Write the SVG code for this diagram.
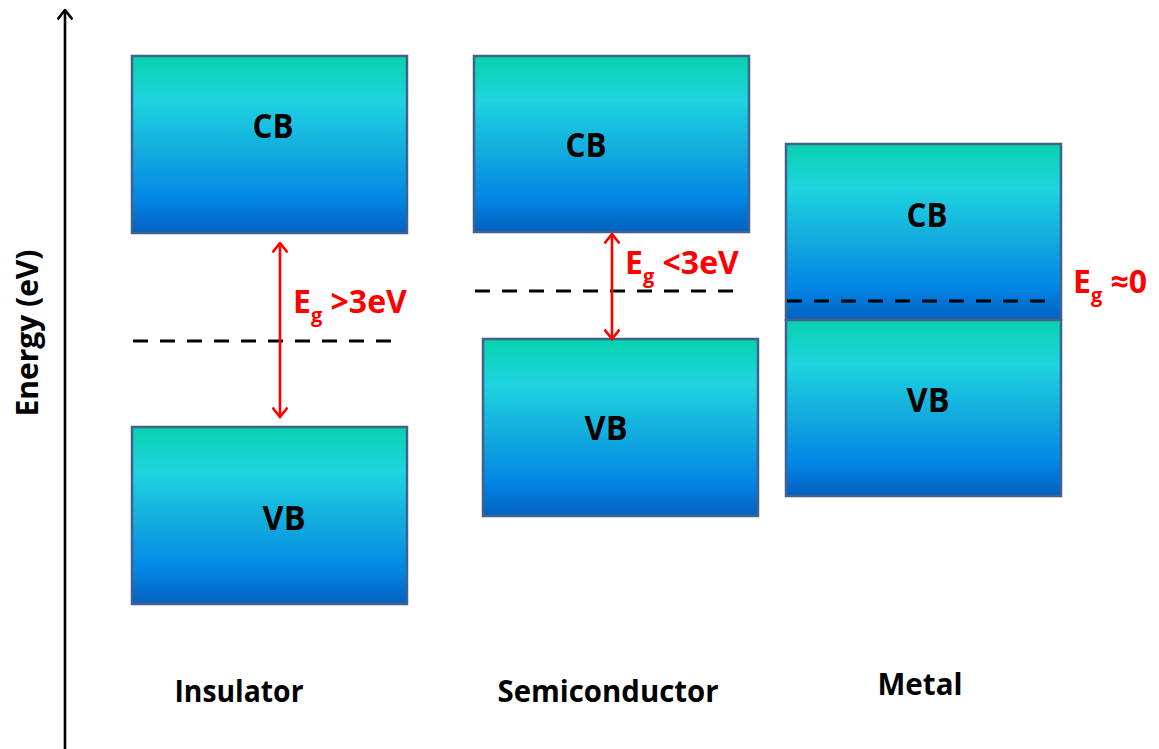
<svg xmlns="http://www.w3.org/2000/svg" width="1159" height="749" viewBox="0 0 1159 749">
  <defs>
    <linearGradient id="band" x1="0" y1="0" x2="0" y2="1">
      <stop offset="0" stop-color="#07D2AC"/>
      <stop offset="0.25" stop-color="#1FD4E0"/>
      <stop offset="0.55" stop-color="#12AADE"/>
      <stop offset="0.8" stop-color="#0388E6"/>
      <stop offset="1" stop-color="#0460C0"/>
    </linearGradient>
    <marker id="redHead" viewBox="0 0 12 16" refX="10.5" refY="8" markerWidth="12" markerHeight="16" orient="auto-start-reverse" markerUnits="userSpaceOnUse">
      <path d="M1,0.5 L10.5,8 L1,15.5" fill="none" stroke="#FF0000" stroke-width="2.6"/>
    </marker>
    <marker id="blackHead" viewBox="0 0 12 16" refX="10.5" refY="8" markerWidth="12" markerHeight="16" orient="auto" markerUnits="userSpaceOnUse">
      <path d="M1,0.5 L10.5,8 L1,15.5" fill="none" stroke="#000" stroke-width="2.6"/>
    </marker>
  </defs>
  <style>
    .band { fill: url(#band); stroke: #41628C; stroke-width: 2.5; }
    .lbl { font-family: "Open Sans", "Liberation Sans", sans-serif; font-weight: bold; fill: #000; text-anchor: middle; }
    .eg { font-family: "Open Sans", "Liberation Sans", "DejaVu Sans", sans-serif; font-weight: bold; fill: #FF0000; font-size: 32px; }
    .sub { font-size: 20px; }
    .fermi { stroke: #000; stroke-width: 3; stroke-dasharray: 15 12; fill: none; }
    .gap { stroke: #FF0000; stroke-width: 2.6; fill: none; marker-start: url(#redHead); marker-end: url(#redHead); }
  </style>
  <rect width="1159" height="749" fill="#FFFFFF"/>

  <g id="axis">
    <line x1="65" y1="749" x2="65" y2="10" stroke="#000" stroke-width="2.6" marker-end="url(#blackHead)"/>
    <text class="lbl" font-size="31" transform="translate(38,333) rotate(-90)" textLength="167" lengthAdjust="spacingAndGlyphs">Energy (eV)</text>
  </g>

  <g id="insulator-cb">
    <rect class="band" x="132" y="56" width="275" height="177"/>
    <text class="lbl" x="273" y="138" font-size="34" textLength="41" lengthAdjust="spacingAndGlyphs">CB</text>
  </g>
  <g id="insulator-vb">
    <rect class="band" x="132" y="427" width="275" height="177"/>
    <text class="lbl" x="284" y="530" font-size="34" textLength="43" lengthAdjust="spacingAndGlyphs">VB</text>
  </g>
  <g id="semiconductor-cb">
    <rect class="band" x="474" y="56" width="275" height="176"/>
    <text class="lbl" x="586" y="157" font-size="34" textLength="41" lengthAdjust="spacingAndGlyphs">CB</text>
  </g>
  <g id="semiconductor-vb">
    <rect class="band" x="483" y="339" width="275" height="177"/>
    <text class="lbl" x="606" y="440" font-size="34" textLength="43" lengthAdjust="spacingAndGlyphs">VB</text>
  </g>
  <g id="metal-cb">
    <rect class="band" x="786" y="144" width="275" height="176"/>
    <text class="lbl" x="927" y="227" font-size="34" textLength="41" lengthAdjust="spacingAndGlyphs">CB</text>
  </g>
  <g id="metal-vb">
    <rect class="band" x="786" y="320" width="275" height="176"/>
    <text class="lbl" x="928" y="412" font-size="34" textLength="43" lengthAdjust="spacingAndGlyphs">VB</text>
  </g>

  <g id="fermi-levels">
    <line class="fermi" x1="133" y1="341" x2="396" y2="341"/>
    <line class="fermi" x1="475" y1="291" x2="738" y2="291"/>
    <line class="fermi" x1="787" y1="301" x2="1050" y2="301"/>
  </g>

  <g id="connectors">
    <line class="gap" x1="280" y1="243" x2="280" y2="417"/>
    <line class="gap" x1="612" y1="234" x2="612" y2="339"/>
  </g>

  <g id="gap-labels">
    <text class="eg" x="293" y="313">E<tspan class="sub" dy="9">g</tspan><tspan dy="-9"> &gt;3eV</tspan></text>
    <text class="eg" x="625" y="274">E<tspan class="sub" dy="9">g</tspan><tspan dy="-9"> &lt;3eV</tspan></text>
    <text class="eg" x="1073" y="293">E<tspan class="sub" dy="9">g</tspan><tspan dy="-9"> ≈0</tspan></text>
  </g>

  <g id="material-labels">
    <text class="lbl" x="239" y="702" font-size="31" textLength="129" lengthAdjust="spacingAndGlyphs">Insulator</text>
    <text class="lbl" x="608" y="702" font-size="31" textLength="221" lengthAdjust="spacingAndGlyphs">Semiconductor</text>
    <text class="lbl" x="920" y="695" font-size="31" textLength="85" lengthAdjust="spacingAndGlyphs">Metal</text>
  </g>
</svg>
